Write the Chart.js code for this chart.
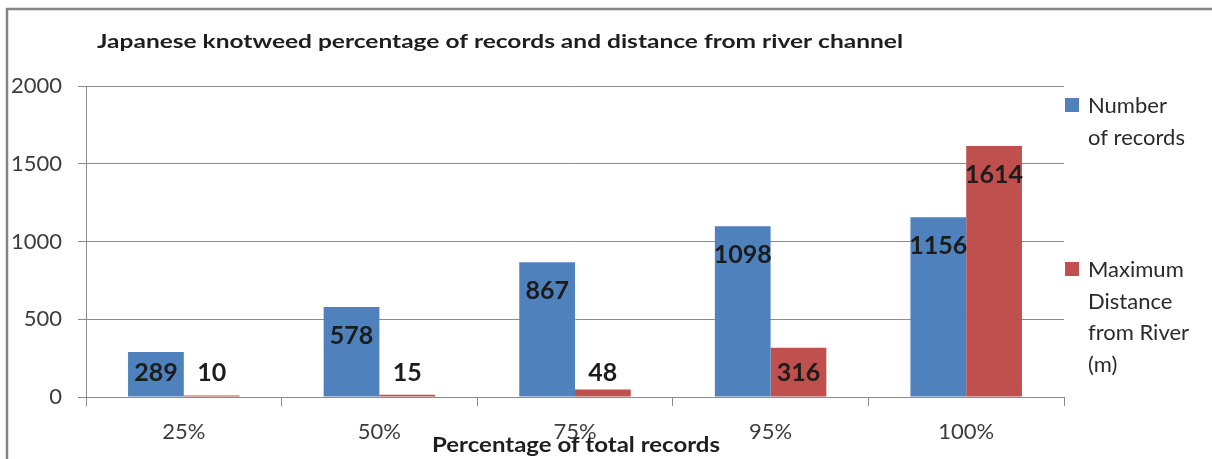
<!DOCTYPE html>
<html>
<head>
<meta charset="utf-8">
<script src="https://cdn.jsdelivr.net/npm/chart.js@4.4.1/dist/chart.umd.min.js"></script>
<style>
  html, body { margin: 0; padding: 0; background: #ffffff; }
  #wrap { width: 1212px; height: 459px; position: relative; }
</style>
</head>
<body>
<div id="wrap"><canvas id="chart"></canvas></div>
<script>
// Chart data
const categories = ['25%', '50%', '75%', '95%', '100%'];
const numberOfRecords = [289, 578, 867, 1098, 1156];
const maxDistanceFromRiver = [10, 15, 48, 316, 1614];
const yTickValues = [0, 500, 1000, 1500, 2000];
const seriesLabels = [
  ['Number', 'of records'],
  ['Maximum', 'Distance', 'from River', '(m)']
];
const chartTitle = 'Japanese knotweed percentage of records and distance from river channel';
const xAxisTitle = 'Percentage of total records';

const FONT = 'Lato, "Open Sans", "DejaVu Sans", sans-serif';
const seriesColors = ['#4F81BD', '#C0504D'];

// Draws a line of text stretched horizontally to a given width
function drawStretched(ctx, text, x, y, width, align) {
  const natural = ctx.measureText(text).width;
  const sx = width / natural;
  ctx.save();
  const left = align === 'center' ? x - width / 2 : x;
  ctx.translate(left, y);
  ctx.scale(sx, 1);
  ctx.textAlign = 'left';
  ctx.fillText(text, 0, 0);
  ctx.restore();
}

// Frame, value labels, title, axis title and legend drawn on the chart canvas
const decorations = {
  id: 'decorations',
  beforeDraw(chart) {
    const ctx = chart.ctx;
    ctx.save();
    ctx.fillStyle = '#ffffff';
    ctx.fillRect(0, 0, chart.width, chart.height);
    ctx.strokeStyle = '#858585';
    ctx.lineWidth = 2.5;
    ctx.beginPath();
    ctx.moveTo(7, chart.height + 2);
    ctx.lineTo(7, 9);
    ctx.lineTo(chart.width + 2, 9);
    ctx.stroke();
    ctx.restore();
  },
  afterDatasetsDraw(chart) {
    const ctx = chart.ctx;
    ctx.save();
    ctx.font = 'bold 25px ' + FONT;
    ctx.fillStyle = '#1c1c1c';
    ctx.textAlign = 'center';
    ctx.textBaseline = 'middle';
    chart.data.datasets.forEach((ds, di) => {
      const meta = chart.getDatasetMeta(di);
      meta.data.forEach((bar, i) => {
        const y = Math.min(bar.y + 29, bar.base - 24);
        ctx.fillText(String(ds.data[i]), bar.x, y);
      });
    });
    ctx.restore();
  },
  afterDraw(chart) {
    const ctx = chart.ctx;
    const area = chart.chartArea;
    ctx.save();
    ctx.textBaseline = 'alphabetic';
    // chart title
    ctx.fillStyle = '#1e1e1e';
    ctx.font = 'bold 19px ' + FONT;
    drawStretched(ctx, chartTitle, 97, 48, 806, 'left');
    // category axis title
    ctx.font = 'bold 21px ' + FONT;
    drawStretched(ctx, xAxisTitle, (area.left + area.right) / 2 + 1, 452, 288, 'center');
    // legend
    const legendTops = [98, 262];
    ctx.font = '22px ' + FONT;
    ctx.textAlign = 'left';
    seriesLabels.forEach((lines, si) => {
      const top = legendTops[si];
      ctx.fillStyle = seriesColors[si];
      ctx.fillRect(1065, top, 14, 14);
      ctx.fillStyle = '#2a2a2a';
      lines.forEach((line, li) => {
        ctx.fillText(line, 1088, top + 15 + li * 31.5);
      });
    });
    ctx.restore();
  }
};

new Chart(document.getElementById('chart'), {
  type: 'bar',
  data: {
    labels: categories,
    datasets: [
      { label: seriesLabels[0].join(' '), data: numberOfRecords, backgroundColor: seriesColors[0], borderWidth: 0 },
      { label: seriesLabels[1].join(' '), data: maxDistanceFromRiver, backgroundColor: seriesColors[1], borderWidth: 0 }
    ]
  },
  options: {
    responsive: true,
    maintainAspectRatio: false,
    animation: false,
    events: [],
    categoryPercentage: 0.57,
    barPercentage: 1.0,
    layout: { padding: { top: 86, right: 148, left: 0, bottom: 0 } },
    plugins: {
      legend: { display: false },
      title: { display: false },
      tooltip: { enabled: false }
    },
    scales: {
      x: {
        offset: true,
        grid: {
          display: true,
          offset: true,
          drawOnChartArea: false,
          drawTicks: true,
          tickLength: 9,
          color: '#8c8c8c',
          lineWidth: 1
        },
        border: { display: true, color: '#8c8c8c', width: 1 },
        ticks: {
          font: { family: FONT, size: 22 },
          color: '#3c3c3c',
          padding: 13,
          maxRotation: 0,
          autoSkip: false
        },
        afterFit(scale) { scale.height = 62; }
      },
      y: {
        min: 0,
        max: 2000,
        afterBuildTicks(scale) { scale.ticks = yTickValues.map(v => ({ value: v })); },
        grid: {
          color: '#8c8c8c',
          lineWidth: 1,
          drawTicks: true,
          tickLength: 8
        },
        border: { display: true, color: '#8c8c8c', width: 1 },
        ticks: {
          font: { family: FONT, size: 22 },
          color: '#3c3c3c',
          padding: 16,
          callback: (value) => String(value)
        },
        afterFit(scale) { scale.width = 86; }
      }
    }
  },
  plugins: [decorations]
});
</script>
</body>
</html>
